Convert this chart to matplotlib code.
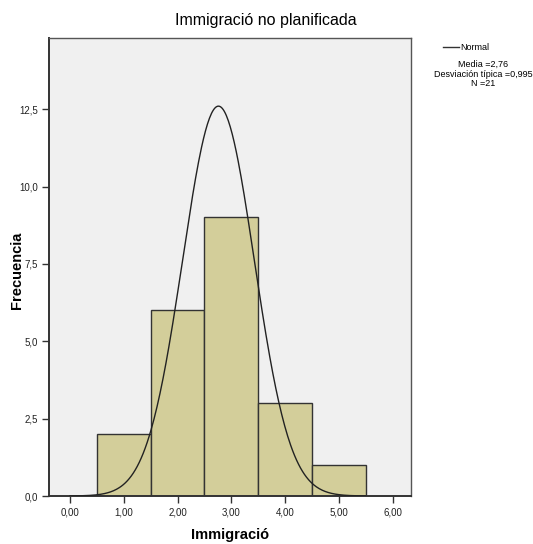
import numpy as np
import matplotlib
matplotlib.use("Agg")
import matplotlib.pyplot as plt
from matplotlib.ticker import FuncFormatter

# histogram data (Immigració)
bin_centers = [1, 2, 3, 4, 5]
counts = [2, 6, 9, 3, 1]
bin_width = 1.0

# stats shown in the legend
media = 2.76
desviacion = 0.995
n_total = 21
# width of the drawn curve
curve_sd = 0.665
curve_range = (0.0, 5.5)

x_ticks = [0, 1, 2, 3, 4, 5, 6]
y_ticks = [0, 2.5, 5, 7.5, 10, 12.5]

plt.rcParams['font.family'] = ['Liberation Sans', 'DejaVu Sans']

W, H = 533, 544
fig = plt.figure(figsize=(W / 100, H / 100), dpi=100)
ax = fig.add_axes([49 / W, 1 - 496 / H, (411 - 49) / W, (496 - 38) / H])
ax.set_facecolor('#f0f0f0')

ax.bar(bin_centers, counts, width=bin_width, color='#d3ce9a',
       edgecolor='#333333', linewidth=1.0, zorder=2)

xs = np.linspace(curve_range[0], curve_range[1], 300)
ys = n_total * bin_width / (curve_sd * np.sqrt(2 * np.pi)) * np.exp(-0.5 * ((xs - media) / curve_sd) ** 2)
ax.plot(xs, ys, color='#222222', linewidth=1.0, zorder=3)

ax.set_xlim(-0.39, 6.34)
ax.set_ylim(0, 14.8)
ax.set_xticks(x_ticks)
ax.set_yticks(y_ticks)
ax.xaxis.set_major_formatter(FuncFormatter(lambda v, p: ('%.2f' % v).replace('.', ',')))
ax.yaxis.set_major_formatter(FuncFormatter(lambda v, p: ('%.1f' % v).replace('.', ',')))
ax.tick_params(labelsize=7, length=5, width=1, color='#333333', labelcolor='#222222', pad=3)
for s in ax.spines.values():
    s.set_color('#555555')
    s.set_linewidth(1.0)
ax.spines['left'].set_color('#333333')
ax.spines['left'].set_linewidth(1.4)
ax.spines['bottom'].set_color('#333333')
ax.spines['bottom'].set_linewidth(1.4)

fig.text(230 / W, 1 - 535 / H, 'Immigració', fontsize=10.5, fontweight='bold',
         ha='center', va='center')
fig.text(17 / W, 1 - 270 / H, 'Frecuencia', fontsize=10.5, fontweight='bold',
         ha='center', va='center', rotation=90)

fig.text(266 / W, 1 - 20 / H, 'Immigració no planificada', ha='center', va='center',
         fontsize=11.5)

# legend block
fig.lines.append(plt.Line2D([443 / W, 459 / W], [1 - 47 / H, 1 - 47 / H],
                            color='#333333', linewidth=1.0, transform=fig.transFigure))
fig.text(460 / W, 1 - 47 / H, 'Normal', fontsize=6.5, va='center', ha='left')
stats = 'Media =%s\nDesviación típica =%s\nN =%d' % (
    str(media).replace('.', ','), str(desviacion).replace('.', ','), n_total)
fig.text(483 / W, 1 - 60 / H, stats, fontsize=6.5, va='top', ha='center',
         linespacing=1.1)

fig.savefig('out.png', dpi=100)
